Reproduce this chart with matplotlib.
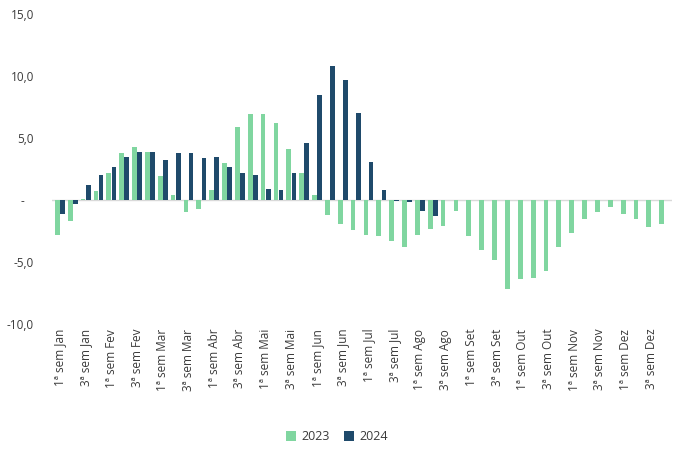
import matplotlib
matplotlib.use("Agg")
import matplotlib.pyplot as plt
import numpy as np
from matplotlib.ticker import FuncFormatter

months = ["Jan", "Fev", "Mar", "Abr", "Mai", "Jun",
          "Jul", "Ago", "Set", "Out", "Nov", "Dez"]
tick_labels = [f"{w}ª sem {m}" for m in months for w in (1, 3)]

# weekly values (4 weeks per month)
vals_2023 = [
    -2.8, -1.7, 0.05, 0.7,
    2.2, 3.8, 4.3, 3.9,
    1.9, 0.4, -1.0, -0.7,
    0.8, 3.0, 5.9, 6.9,
    6.9, 6.2, 4.1, 2.2,
    0.4, -1.2, -1.9, -2.4,
    -2.8, -2.9, -3.3, -3.8,
    -2.8, -2.3, -2.1, -0.9,
    -2.9, -4.0, -4.8, -7.2,
    -6.4, -6.3, -5.7, -3.8,
    -2.7, -1.5, -1.0, -0.6,
    -1.1, -1.5, -2.2, -1.9,
]
vals_2024 = [
    -1.1, -0.3, 1.2, 2.0,
    2.7, 3.5, 3.9, 3.9,
    3.2, 3.8, 3.8, 3.4,
    3.5, 2.7, 2.2, 2.0,
    0.9, 0.8, 2.2, 4.6,
    8.5, 10.8, 9.7, 7.0,
    3.1, 0.8, -0.1, -0.15,
    -0.9, -1.3,
]

GREEN = "#80d6a0"
NAVY = "#1f4a6b"
TEXT = "#3a3a3a"

plt.rcParams["font.family"] = ["Open Sans", "DejaVu Sans"]

fig = plt.figure(figsize=(6.82, 4.5), dpi=100)
ax = fig.add_axes([52 / 682, 1 - 324 / 450, 620 / 682, 310 / 450])

x23 = np.arange(len(vals_2023))
x24 = np.arange(len(vals_2024))
w = 0.4
ax.bar(x23 - w / 2, vals_2023, w * 0.92, color=GREEN, label="2023", zorder=2)
ax.bar(x24 + w / 2, vals_2024, w * 0.92, color=NAVY, label="2024", zorder=2)

ax.axhline(0, color="#d9d9d9", linewidth=1, zorder=1)
ax.set_ylim(-10, 15)
ax.set_yticks([-10, -5, 0, 5, 10, 15])


def fmt(v, _):
    if v == 0:
        return "-   "
    return f"{v:.1f}".replace(".", ",")


ax.yaxis.set_major_formatter(FuncFormatter(fmt))
ax.set_xlim(-0.62, 47.6)
ax.set_xticks(np.arange(0, 48, 2))
ax.set_xticklabels(tick_labels, rotation=90, va="top", ha="center")

for s in ax.spines.values():
    s.set_visible(False)
ax.tick_params(axis="both", length=0, labelsize=8.5, colors=TEXT)
ax.tick_params(axis="y", pad=13)

fig.legend(loc="center", bbox_to_anchor=(337 / 682, 1 - 437 / 450), ncol=2,
           frameon=False, fontsize=9, handlelength=0.8, handleheight=0.8,
           columnspacing=1.2, handletextpad=0.4, labelcolor=TEXT)

fig.savefig("out.png", dpi=100)
